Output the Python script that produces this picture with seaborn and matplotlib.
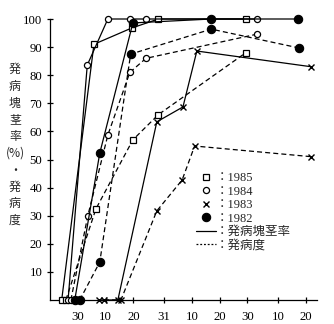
import matplotlib
matplotlib.use("Agg")
import matplotlib.pyplot as plt
from matplotlib.lines import Line2D
import seaborn as sns
import pandas as pd

# Days counted from June 30 (tick "30" = day 0)
tick_days = [0, 10, 20, 31, 41, 51, 61, 72, 82]
tick_labels = ["30", "10", "20", "31", "10", "20", "30", "10", "20"]
y_ticks = [10, 20, 30, 40, 50, 60, 70, 80, 90, 100]

# 発病塊茎率 (solid) and 発病度 (dashed) for each year
rate_1985_day = [-5.8, 5.8, 19.4, 29.0, 60.4]
rate_1985_val = [0, 91, 96.8, 100, 100]
sev_1985_day = [-4.3, 6.5, 19.8, 29.0, 60.4]
sev_1985_val = [0, 32.4, 57, 66, 88]

rate_1984_day = [-3.5, 3.4, 10.8, 18.7, 24.5, 64.4]
rate_1984_val = [0, 83.6, 100, 100, 100, 100]
sev_1984_day = [-2.5, 3.6, 10.8, 18.7, 24.5, 64.4]
sev_1984_val = [0, 30, 58.7, 81, 86, 94.6]

rate_1983_day = [7.6, 14.4, 28.4, 37.8, 42.8, 84.0]
rate_1983_val = [0, 0, 63.4, 68.7, 88.6, 83]
sev_1983_day = [9.4, 15.5, 28.4, 37.5, 42.0, 84.0]
sev_1983_val = [0, 0, 31.7, 42.7, 54.8, 51]

rate_1982_day = [-1.1, 7.9, 19.8, 48.0, 79.0]
rate_1982_val = [0, 52.3, 98.6, 100, 100]
sev_1982_day = [0.7, 7.9, 19.0, 48.0, 79.5]
sev_1982_val = [0, 13.5, 87.5, 96.4, 89.7]

years = ["1985", "1984", "1983", "1982"]
series = {
    "1985": (rate_1985_day, rate_1985_val, sev_1985_day, sev_1985_val),
    "1984": (rate_1984_day, rate_1984_val, sev_1984_day, sev_1984_val),
    "1983": (rate_1983_day, rate_1983_val, sev_1983_day, sev_1983_val),
    "1982": (rate_1982_day, rate_1982_val, sev_1982_day, sev_1982_val),
}

sns.set_style("ticks")
plt.rcParams["font.family"] = ["Liberation Serif", "Noto Sans CJK JP"]

marker_style = {
    "1985": dict(marker="s", markersize=4.4, markerfacecolor="white", markeredgewidth=0.9),
    "1984": dict(marker="o", markersize=4.4, markerfacecolor="white", markeredgewidth=0.9),
    "1983": dict(marker="x", markersize=4.5, markerfacecolor="black", markeredgewidth=1.0),
    "1982": dict(marker="o", markersize=6.0, markerfacecolor="black", markeredgewidth=0.8),
}

fig = plt.figure(figsize=(3.34, 3.24), dpi=100)
ax = fig.add_axes([50 / 334, 1 - 300 / 324, 267 / 334, 281 / 324])

for yr in years:
    rd, rv, sd, sv = series[yr]
    df_r = pd.DataFrame({"day": rd, "val": rv})
    df_s = pd.DataFrame({"day": sd, "val": sv})
    sns.lineplot(data=df_r, x="day", y="val", ax=ax, color="black", linewidth=0.9,
                 linestyle="-", markeredgecolor="black", clip_on=False, zorder=3,
                 **marker_style[yr])
    sns.lineplot(data=df_s, x="day", y="val", ax=ax, color="black", linewidth=0.9,
                 dashes=(4, 2.5), markeredgecolor="black", clip_on=False, zorder=3,
                 **marker_style[yr])

ax.set_xlim(-10, 86)
ax.set_ylim(0, 100)
ax.set_xticks(tick_days)
ax.set_xticklabels(tick_labels)
ax.set_yticks(y_ticks)
ax.set_yticklabels([str(v) for v in y_ticks])
ax.set_xlabel("")
ax.set_ylabel("")
ax.tick_params(axis="both", direction="inout", length=5, width=0.9, labelsize=9.2,
               colors="black")
ax.tick_params(axis="x", pad=5.5)
ax.tick_params(axis="y", pad=3)
for s in ["top", "right"]:
    ax.spines[s].set_visible(False)
for s in ["left", "bottom"]:
    ax.spines[s].set_linewidth(0.9)
    ax.spines[s].set_color("black")

# Vertical axis title written top to bottom
ylabel_chars = ["発", "病", "塊", "茎", "率", "(%)", "・", "発", "病", "度"]
fig.text(15 / 334, 1 - 145 / 324, "\n".join(ylabel_chars), ha="center", va="center",
         fontsize=8.6, linespacing=1.38, family=["Noto Sans CJK JP", "DejaVu Sans"])

handles = [
    Line2D([], [], color="black", linestyle="none", **marker_style["1985"], markeredgecolor="black"),
    Line2D([], [], color="black", linestyle="none", **marker_style["1984"], markeredgecolor="black"),
    Line2D([], [], color="black", linestyle="none", **marker_style["1983"], markeredgecolor="black"),
    Line2D([], [], color="black", linestyle="none", **marker_style["1982"], markeredgecolor="black"),
    Line2D([], [], color="black", linewidth=0.9, linestyle="-"),
    Line2D([], [], color="black", linewidth=0.9, linestyle=(0, (1.5, 1.5))),
]
labels = ["：1985", "：1984", "：1983", "：1982", "：発病塊茎率", "：発病度"]
leg = ax.legend(handles, labels, loc="upper left", bbox_to_anchor=(0.545, 0.455),
                frameon=False, fontsize=9, handlelength=1.6, handletextpad=0.0,
                labelspacing=0.12, borderpad=0, borderaxespad=0)

fig.savefig("out.png", dpi=100)
